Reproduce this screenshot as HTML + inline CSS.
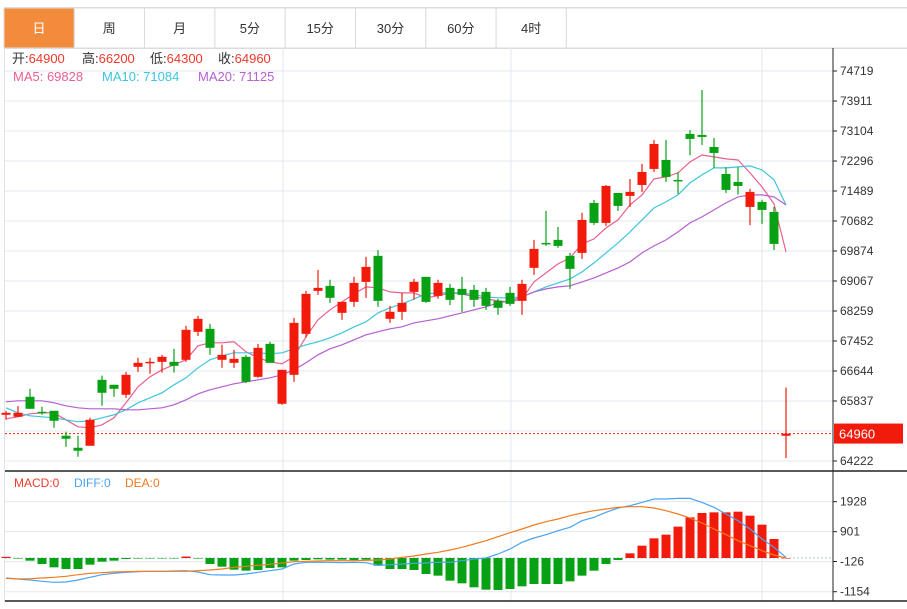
<!DOCTYPE html>
<html><head><meta charset="utf-8"><style>
body{margin:0;background:#fff;width:907px;height:604px;overflow:hidden;font-family:"Liberation Sans","Noto Sans CJK SC",sans-serif}
svg text{font-family:"Liberation Sans","Noto Sans CJK SC",sans-serif}
</style></head><body>
<svg id="chart" width="907" height="604" viewBox="0 0 907 604" xmlns="http://www.w3.org/2000/svg">
<g id="tabs"></g>
<g id="grid"></g>
<g id="axis"></g>
<g id="ma"></g>
<g id="candles"></g>
<g id="macd"></g>
<g font-size="13">
<text x="12" y="63" fill="#333">开:<tspan fill="#f0392a">64900</tspan></text>
<text x="82" y="63" fill="#333">高:<tspan fill="#f0392a">66200</tspan></text>
<text x="150" y="63" fill="#333">低:<tspan fill="#f0392a">64300</tspan></text>
<text x="218" y="63" fill="#333">收:<tspan fill="#f0392a">64960</tspan></text>
<text x="13" y="81" fill="#ec5f8c">MA5: 69828</text>
<text x="102" y="81" fill="#3cc6dc">MA10: 71084</text>
<text x="198" y="81" fill="#b65fcf">MA20: 71125</text>
</g>
<g font-size="12">
<text x="14" y="487" fill="#f0392a">MACD:0</text>
<text x="74" y="487" fill="#4aa3f0">DIFF:0</text>
<text x="125" y="487" fill="#f27a1f">DEA:0</text>
</g>
</svg>
<script>
const tabLabels=["日","周","月","5分","15分","30分","60分","4时"];
const priceTicks=[74719,73911,73104,72296,71489,70682,69874,69067,68259,67452,66644,65837,64222];
const macdTicks=[1928,901,-126,-1154];
const opens=[65465,65412,65950,65546,65573,64901,64578,64632,66407,66273,66004,66757,66864,66891,66891,66945,67698,67779,66945,66864,67026,66487,67375,65762,66541,67645,68801,68935,68209,68505,69043,69743,68048,68236,68774,69178,68667,68882,68855,68828,68774,68532,68747,68532,69420,70092,70173,69743,69823,71168,70630,71437,71357,71652,72083,72325,71787,73025,72998,72675,71948,71733,71061,71195,70926,64900];
const highs=[65573,65700,66165,65680,65573,65008,64901,65385,66520,66273,66620,67000,67000,67079,67240,67860,68130,67915,67350,67215,67079,67375,67430,66676,68075,68801,69366,69100,68505,69178,69716,69900,68398,68747,69124,69178,69100,68989,69178,68962,68882,68586,68908,69100,70173,70953,70520,69823,70900,71250,71650,71437,71810,72220,72860,72860,72002,73130,74208,72917,72130,72130,71545,71250,71060,66200];
const lows=[65331,65412,65627,65465,65116,64605,64336,64632,65708,65950,65920,66620,66570,66600,66600,66891,67590,67079,66730,66730,66320,66460,66864,65735,66353,67540,68693,68478,68020,68370,68613,68370,67940,68020,68559,68478,68590,68420,68236,68370,68290,68156,68398,68156,69230,70011,69960,68855,69660,70576,70550,70953,71060,71464,72002,71733,71410,72450,72728,72110,71437,71390,70570,70600,69900,64300];
const closes=[65519,65519,65627,65519,65304,64820,64497,65331,66058,66165,66541,66864,66891,67026,66784,67752,68048,67268,67079,66972,66353,67268,66864,66676,67940,68720,68882,68613,68505,69016,69447,68532,68236,68478,69043,68505,69016,68559,68693,68559,68398,68344,68451,68989,69931,70065,70011,69393,70711,70630,71625,71088,71464,72002,72755,71867,71760,72890,72944,72513,71518,71625,71464,70980,70065,64960];
const ma5=[65358,65412,65492,65519,65519,65331,65143,65116,65197,65385,65788,66219,66488,66676,66811,66945,67322,67402,67402,67429,67160,66999,66891,66837,67026,67564,68021,68290,68505,68720,68909,68882,68774,68747,68747,68613,68667,68747,68720,68640,68586,68532,68505,68586,69043,69285,69527,69688,70065,70199,70496,70711,71114,71384,71814,71868,71976,72271,72459,72406,72352,72325,71976,71599,71141,69850];
const ma10=[65654,65519,65439,65412,65385,65331,65277,65304,65385,65466,65600,65788,65923,66057,66273,66461,66730,66945,67053,67133,67133,67133,67106,67133,67241,67349,67429,67537,67671,67832,67967,68209,68344,68451,68586,68720,68747,68747,68747,68694,68640,68613,68613,68640,68774,68909,69016,69124,69312,69554,69823,70092,70388,70711,71034,71195,71384,71706,71922,72110,72110,72137,72164,72056,71787,71114];
const ma20=[65815,65842,65842,65842,65788,65708,65654,65627,65627,65627,65600,65600,65627,65654,65735,65869,66030,66138,66219,66299,66353,66407,66461,66542,66676,66864,67080,67241,67349,67483,67618,67698,67779,67833,67940,67994,68048,68129,68209,68290,68371,68478,68532,68640,68774,68855,68909,68936,69043,69150,69285,69420,69581,69823,70011,70173,70388,70630,70792,70980,71168,71330,71384,71384,71330,71114];
const macdHist=[40,-20,-91,-205,-320,-377,-377,-228,-126,-91,-34,-20,-15,-15,-10,50,-20,-205,-297,-400,-434,-411,-342,-320,-91,-68,-46,-57,-57,-68,-57,-262,-377,-377,-411,-548,-605,-776,-867,-1004,-1084,-1095,-1061,-970,-890,-890,-890,-799,-605,-434,-205,-68,160,422,673,799,1073,1392,1540,1563,1563,1586,1449,1141,650,0];
const diff=[-685,-719,-753,-799,-833,-822,-753,-662,-571,-525,-491,-468,-456,-456,-445,-434,-479,-571,-582,-582,-548,-491,-434,-377,-205,-148,-148,-148,-160,-148,-160,-251,-228,-205,-183,-171,-148,-148,-91,-34,0,137,308,536,685,799,936,1050,1278,1392,1563,1712,1791,1905,2020,2020,2042,2042,1905,1734,1506,1278,993,650,365,23];
const dea=[-696,-719,-707,-685,-662,-628,-571,-525,-502,-479,-468,-456,-456,-456,-456,-456,-434,-411,-377,-319,-285,-251,-217,-171,-126,-114,-103,-91,-91,-91,-80,-68,-34,23,68,137,194,274,365,479,593,730,867,993,1130,1244,1335,1449,1540,1620,1677,1734,1757,1757,1712,1620,1506,1369,1198,993,799,593,422,251,103,0];
const lastPrice=64960;

const NS="http://www.w3.org/2000/svg";
function mk(parent,tag,attrs){const e=document.createElementNS(NS,tag);for(const k in attrs)e.setAttribute(k,attrs[k]);parent.appendChild(e);return e;}
const xOf=i=>6+12*i;
const yP=p=>71+(74719-p)*30/807.5;
const yM=v=>558-v*30/1027;
const RED="#f21a0a",GREEN="#08a114";

// tabs
const tabs=document.getElementById('tabs');
mk(tabs,'line',{x1:4,y1:7.5,x2:907,y2:7.5,stroke:'#dcdcdc'});
mk(tabs,'line',{x1:4,y1:48.5,x2:907,y2:48.5,stroke:'#dcdcdc'});
tabLabels.forEach((t,i)=>{
  const x=4+70.3*i;
  const r=mk(tabs,'rect',{x:x,y:8,width:70.3,height:40,fill:i===0?'#f28c3c':'#fff',stroke:'#dcdcdc','stroke-width':1});
  
  
  const tx=mk(tabs,'text',{x:x+35,y:33,'text-anchor':'middle','font-size':13,fill:i===0?'#fff':'#333'});
  tx.textContent=t;
  
  
});
mk(tabs,'rect',{x:4+70.3*8,y:8,width:907,height:40,fill:'#fff',stroke:'#dcdcdc'});

// grid
const grid=document.getElementById('grid');
mk(grid,'line',{x1:4.5,y1:48,x2:4.5,y2:603,stroke:'#dde3ea'});
priceTicks.forEach(p=>mk(grid,'line',{x1:5,y1:yP(p),x2:833,y2:yP(p),stroke:'#e3e8ee'}));
[101,131,161,191,221,251,281,311,341,371,401,431,461].forEach(()=>{});
for(let k=0;k<14;k++){mk(grid,'line',{x1:5,y1:71+30*k,x2:833,y2:71+30*k,stroke:'#e3e8ee'});}
[283,511,762].forEach(x=>{mk(grid,'line',{x1:x,y1:48,x2:x,y2:601,stroke:'#e3e8ee'});});
macdTicks.forEach(v=>mk(grid,'line',{x1:5,y1:yM(v),x2:833,y2:yM(v),stroke:'#e3e8ee'}));
mk(grid,'line',{x1:5,y1:471,x2:907,y2:471,stroke:'#222','stroke-width':1.5});
mk(grid,'line',{x1:5,y1:601,x2:907,y2:601,stroke:'#222','stroke-width':1.5});

// axis
const axis=document.getElementById('axis');
mk(axis,'line',{x1:833,y1:48,x2:833,y2:601,stroke:'#222'});
priceTicks.forEach(p=>{
  const y=yP(p);
  mk(axis,'line',{x1:833,y1:y,x2:837,y2:y,stroke:'#222'});
  const t=mk(axis,'text',{x:840,y:y+4,'font-size':12,fill:'#333'});t.textContent=p;
  
  
});
macdTicks.forEach(v=>{
  const y=v===-126?561.5:yM(v);
  mk(axis,'line',{x1:833,y1:y,x2:837,y2:y,stroke:'#222'});
  const t=mk(axis,'text',{x:840,y:y+4,'font-size':12,fill:'#333'});t.textContent=v;
  
  
});
const ly=yP(lastPrice);
mk(axis,'line',{x1:5,y1:ly,x2:833,y2:ly,stroke:RED,'stroke-dasharray':'2,2'});
const lb=mk(axis,'rect',{x:834,y:ly-10,width:69,height:20,fill:RED});


const lt=mk(axis,'text',{x:839,y:ly+5,'font-size':13,fill:'#fff'});lt.textContent=lastPrice;

// MA lines
const ma=document.getElementById('ma');
[[ma5,'#ec5f8c','ma5-line'],[ma10,'#3cc6dc','ma10-line'],[ma20,'#b65fcf','ma20-line']].forEach(([arr,c,n])=>{
  const pl=mk(ma,'polyline',{points:arr.map((v,i)=>xOf(i)+','+yP(v).toFixed(1)).join(' '),fill:'none',stroke:c,'stroke-width':1.2});
  
  
});

// candles
const cg=document.getElementById('candles');
opens.forEach((o,i)=>{
  const c=closes[i],up=c>=o,col=up?RED:GREEN,x=xOf(i);
  const g=mk(cg,'g',{});
  
  
  mk(g,'line',{x1:x,y1:yP(highs[i]),x2:x,y2:yP(lows[i]),stroke:col,'stroke-width':1.2});
  const t=yP(Math.max(o,c)),b=yP(Math.min(o,c));
  mk(g,'rect',{x:x-4.5,y:t,width:9,height:Math.max(b-t,1.5),fill:col});
});

// MACD
const mg=document.getElementById('macd');
mk(mg,'line',{x1:5,y1:yM(0),x2:833,y2:yM(0),stroke:'#9cc8ee','stroke-dasharray':'2,2'});
macdHist.forEach((v,i)=>{
  const y0=yM(0),y1=yM(v);
  const r=mk(mg,'rect',{x:xOf(i)-4.5,y:Math.min(y0,y1),width:9,height:Math.max(Math.abs(y1-y0),0.5),fill:v>=0?RED:GREEN});
  
  
});
[[diff,'#4aa3f0','diff-line'],[dea,'#f27a1f','dea-line']].forEach(([arr,c,n])=>{
  const pl=mk(mg,'polyline',{points:arr.map((v,i)=>xOf(i)+','+yM(v).toFixed(1)).join(' '),fill:'none',stroke:c,'stroke-width':1.2});
  
  
});
</script>
</body></html>
